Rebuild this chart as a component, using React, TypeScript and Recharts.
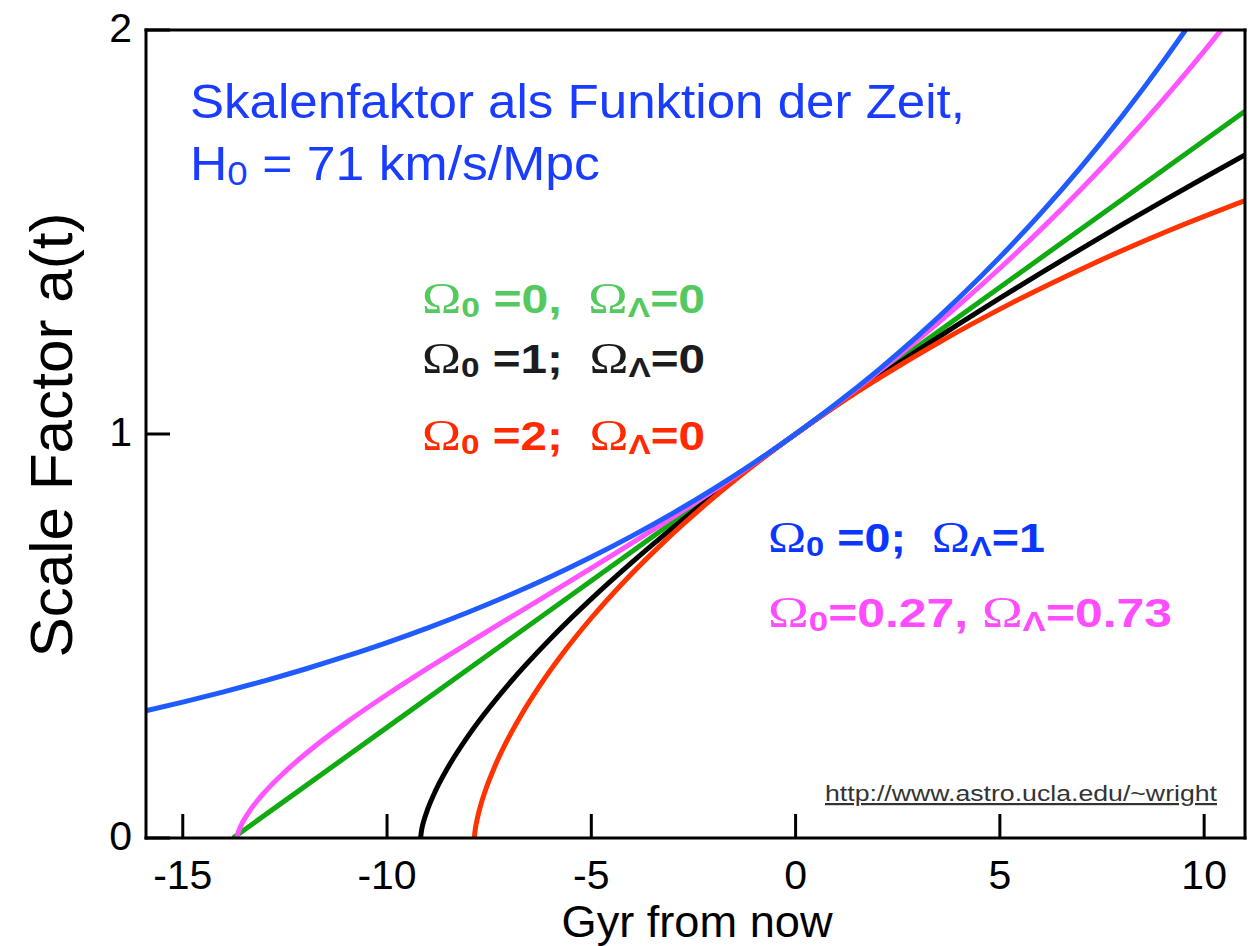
import React from "react";
import { LineChart, Line, XAxis, YAxis } from "recharts";

// ---- data (Gyr from now, scale factor) ----
const openEmpty = [
  { t: -13.77, a: 0 }, { t: -10, a: 0.2738 }, { t: -5, a: 0.6369 }, { t: 0, a: 1 },
  { t: 5, a: 1.3631 }, { t: 11, a: 1.7988 },
];

const einsteinDeSitter = [
  { t: -9.18, a: 0 }, { t: -9.15, a: 0.022 }, { t: -9.1, a: 0.0424 }, { t: -9.0, a: 0.0727 },
  { t: -8.8, a: 0.1197 }, { t: -8.5, a: 0.1764 }, { t: -8, a: 0.2547 }, { t: -7, a: 0.3835 },
  { t: -6, a: 0.4933 }, { t: -5, a: 0.5919 }, { t: -4, a: 0.6828 }, { t: -3, a: 0.7681 },
  { t: -2, a: 0.8489 }, { t: -1, a: 0.926 }, { t: 0, a: 1 }, { t: 1, a: 1.0714 },
  { t: 2, a: 1.1404 }, { t: 3, a: 1.2075 }, { t: 4, a: 1.2727 }, { t: 5, a: 1.3363 },
  { t: 6, a: 1.3984 }, { t: 7, a: 1.4591 }, { t: 8, a: 1.5187 }, { t: 9, a: 1.577 },
  { t: 10, a: 1.6343 }, { t: 11, a: 1.6906 },
];

const closedOmega2 = [
  { t: -7.86, a: 0 }, { t: -7.858, a: 0.005 }, { t: -7.842, a: 0.0199 }, { t: -7.798, a: 0.0447 },
  { t: -7.714, a: 0.0789 }, { t: -7.577, a: 0.1224 }, { t: -7.373, a: 0.1747 }, { t: -7.092, a: 0.2352 },
  { t: -6.722, a: 0.3033 }, { t: -6.253, a: 0.3784 }, { t: -5.677, a: 0.4597 }, { t: -4.985, a: 0.5464 },
  { t: -4.17, a: 0.6376 }, { t: -3.227, a: 0.7325 }, { t: -2.152, a: 0.83 }, { t: -0.94, a: 0.9293 },
  { t: 0, a: 1 }, { t: 0.408, a: 1.0292 }, { t: 1.894, a: 1.1288 }, { t: 3.516, a: 1.2272 },
  { t: 5.272, a: 1.3233 }, { t: 7.159, a: 1.4161 }, { t: 9.171, a: 1.5048 }, { t: 11, a: 1.5776 },
];

const deSitter = [
  { t: -15.9, a: 0.3152 }, { t: -15, a: 0.3364 }, { t: -14, a: 0.3618 }, { t: -13, a: 0.389 },
  { t: -12, a: 0.4183 }, { t: -11, a: 0.4499 }, { t: -10, a: 0.4837 }, { t: -9, a: 0.5202 },
  { t: -8, a: 0.5594 }, { t: -7, a: 0.6015 }, { t: -6, a: 0.6468 }, { t: -5, a: 0.6955 },
  { t: -4, a: 0.7479 }, { t: -3, a: 0.8042 }, { t: -2, a: 0.8648 }, { t: -1, a: 0.93 },
  { t: 0, a: 1 }, { t: 1, a: 1.0753 }, { t: 2, a: 1.1563 }, { t: 3, a: 1.2434 },
  { t: 4, a: 1.3371 }, { t: 5, a: 1.4378 }, { t: 6, a: 1.5461 }, { t: 7, a: 1.6625 },
  { t: 8, a: 1.7878 }, { t: 9, a: 1.9224 }, { t: 9.545, a: 2.0 },
];

const lambdaCDM = [
  { t: -13.669, a: 0 }, { t: -13.65, a: 0.0105 }, { t: -13.6, a: 0.0248 }, { t: -13.4, a: 0.0614 },
  { t: -13, a: 0.1128 }, { t: -12.5, a: 0.1638 }, { t: -12, a: 0.208 }, { t: -11, a: 0.2856 },
  { t: -10, a: 0.3552 }, { t: -9, a: 0.4205 }, { t: -8, a: 0.4833 }, { t: -7, a: 0.5449 },
  { t: -6, a: 0.6061 }, { t: -5, a: 0.6678 }, { t: -4, a: 0.7304 }, { t: -3, a: 0.7945 },
  { t: -2, a: 0.8605 }, { t: -1, a: 0.9288 }, { t: 0, a: 1 }, { t: 1, a: 1.0742 },
  { t: 2, a: 1.152 }, { t: 3, a: 1.2336 }, { t: 4, a: 1.3196 }, { t: 5, a: 1.4102 },
  { t: 6, a: 1.5059 }, { t: 7, a: 1.6071 }, { t: 8, a: 1.7142 }, { t: 9, a: 1.8276 },
  { t: 10, a: 1.9479 }, { t: 10.5, a: 2.0107 },
];

const xTicks = [-15, -10, -5, 0, 5, 10];
const yTicks = [0, 1, 2];
const xDomain = [-15.9, 11];
const yDomain = [0, 2];

const titleLine1 = "Skalenfaktor als Funktion der Zeit,";
const titleLine2 = " = 71 km/s/Mpc";
const xLabel = "Gyr from now";
const yLabel = "Scale Factor a(t)";
const urlText = "http://www.astro.ucla.edu/~wright";

const annotations = [
  { mid: " =0,  ", end: "=0", color: "#55c95f", x: 422, y: 313, w: 283 },
  { mid: " =1;  ", end: "=0", color: "#1c1c1e", x: 422, y: 373, w: 283 },
  { mid: " =2;  ", end: "=0", color: "#ff2a00", x: 422, y: 450, w: 283 },
  { mid: " =0;  ", end: "=1", color: "#0a36ff", x: 768, y: 552, w: 277 },
  { mid: "=0.27, ", end: "=0.73", color: "#ff4cff", x: 768, y: 627, w: 404 },
];

// ---- layout ----
const W = 1257;
const H = 946;
const PLOT_LEFT = 146;
const PLOT_RIGHT = 1244;
const PLOT_TOP = 31;
const PLOT_BOTTOM = 838;
const TICK_LEN = 24;

const FONT = "'Liberation Sans', Arial, Helvetica, sans-serif";
const SERIF = "'Liberation Serif', 'DejaVu Serif', serif";

const BottomTick = (props: any) => {
  const { x, payload } = props;
  return (
    <g>
      <line x1={x} x2={x} y1={PLOT_BOTTOM} y2={PLOT_BOTTOM - TICK_LEN} stroke="#000" strokeWidth={3} />
      <text x={x} y={PLOT_BOTTOM + 51} textAnchor="middle" fontSize={41} fontFamily={FONT} fill="#000">
        {String(payload.value)}
      </text>
    </g>
  );
};

const LeftTick = (props: any) => {
  const { y, payload } = props;
  return (
    <g>
      <line x1={PLOT_LEFT} x2={PLOT_LEFT + TICK_LEN} y1={y} y2={y} stroke="#000" strokeWidth={3} />
      <text x={PLOT_LEFT - 14} y={y + 12} textAnchor="end" fontSize={41} fontFamily={FONT} fill="#000">
        {String(payload.value)}
      </text>
    </g>
  );
};

const axisLineStyle = { stroke: "#000", strokeWidth: 3, strokeLinecap: "square" as const };

export default function App() {
  return (
    <div style={{ position: "absolute", left: 0, top: 0, width: W, height: H, background: "#fff" }}>
      <LineChart
        width={W}
        height={H}
        margin={{ top: PLOT_TOP - 1, right: W - PLOT_RIGHT - 1, bottom: 0, left: 0 }}
      >
        <XAxis
          xAxisId="b"
          type="number"
          dataKey="t"
          domain={xDomain}
          ticks={xTicks}
          allowDataOverflow
          orientation="bottom"
          height={H - PLOT_BOTTOM}
          interval={0}
          tickSize={0}
          tickMargin={0}
          tickLine={false}
          axisLine={axisLineStyle}
          tick={<BottomTick />}
        />
        <XAxis
          xAxisId="top"
          type="number"
          dataKey="t"
          domain={xDomain}
          ticks={xTicks}
          allowDataOverflow
          orientation="top"
          height={1}
          mirror
          interval={0}
          tickSize={TICK_LEN}
          tick={false}
          tickLine={{ stroke: "#000", strokeWidth: 3 }}
          axisLine={axisLineStyle}
        />
        <YAxis
          yAxisId="l"
          type="number"
          domain={yDomain}
          ticks={yTicks}
          allowDataOverflow
          orientation="left"
          width={PLOT_LEFT}
          interval={0}
          tickSize={0}
          tickMargin={0}
          tickLine={false}
          axisLine={axisLineStyle}
          tick={<LeftTick />}
        />
        <YAxis
          yAxisId="r"
          type="number"
          domain={yDomain}
          ticks={yTicks}
          allowDataOverflow
          orientation="right"
          width={1}
          mirror
          interval={0}
          tickSize={TICK_LEN}
          tick={false}
          tickLine={{ stroke: "#000", strokeWidth: 3 }}
          axisLine={axisLineStyle}
        />
        <Line xAxisId="b" yAxisId="l" data={openEmpty} dataKey="a" type="monotone" stroke="#11aa11" strokeWidth={5} dot={false} isAnimationActive={false} />
        <Line xAxisId="b" yAxisId="l" data={einsteinDeSitter} dataKey="a" type="monotone" stroke="#000000" strokeWidth={5} dot={false} isAnimationActive={false} />
        <Line xAxisId="b" yAxisId="l" data={closedOmega2} dataKey="a" type="monotone" stroke="#ff3300" strokeWidth={5} dot={false} isAnimationActive={false} />
        <Line xAxisId="b" yAxisId="l" data={lambdaCDM} dataKey="a" type="monotone" stroke="#ff55ff" strokeWidth={5} dot={false} isAnimationActive={false} />
        <Line xAxisId="b" yAxisId="l" data={deSitter} dataKey="a" type="monotone" stroke="#1f5bff" strokeWidth={5} dot={false} isAnimationActive={false} />
      </LineChart>
      <svg
        width={W}
        height={H}
        style={{ position: "absolute", left: 0, top: 0, pointerEvents: "none" }}
      >
        <text x={190} y={118} fontSize={48} fontFamily={FONT} fill="#1a3cff" textLength={775} lengthAdjust="spacingAndGlyphs">
          {titleLine1}
        </text>
        <text x={190} y={180} fontSize={48} fontFamily={FONT} fill="#1a3cff" textLength={410} lengthAdjust="spacingAndGlyphs" style={{ whiteSpace: "pre" }}>
          <tspan>H</tspan>
          <tspan fontSize={34} dy={5}>0</tspan>
          <tspan dy={-5}>{titleLine2}</tspan>
        </text>
        {annotations.map((an, i) => (
          <text
            key={i}
            x={an.x}
            y={an.y}
            fill={an.color}
            fontFamily={FONT}
            fontWeight="bold"
            fontSize={40}
            textLength={an.w}
            lengthAdjust="spacingAndGlyphs"
            style={{ whiteSpace: "pre" }}
          >
            <tspan fontFamily={SERIF} fontWeight="normal" fontSize={44}>Ω</tspan>
            <tspan fontSize={28} dy={4}>0</tspan>
            <tspan dy={-4}>{an.mid}</tspan>
            <tspan fontFamily={SERIF} fontWeight="normal" fontSize={44}>Ω</tspan>
            <tspan fontSize={28} dy={4}>Λ</tspan>
            <tspan dy={-4}>{an.end}</tspan>
          </text>
        ))}
        <text x={825} y={801} fontSize={22} fontFamily={FONT} fill="#333" textDecoration="underline" textLength={392} lengthAdjust="spacingAndGlyphs">
          {urlText}
        </text>
        <text x={697} y={937} fontSize={44} fontFamily={FONT} fill="#000" textAnchor="middle" textLength={271} lengthAdjust="spacingAndGlyphs">
          {xLabel}
        </text>
        <text transform="translate(72,435) rotate(-90)" fontSize={60} fontFamily={FONT} fill="#000" textAnchor="middle" textLength={445} lengthAdjust="spacingAndGlyphs">
          {yLabel}
        </text>
      </svg>
    </div>
  );
}
